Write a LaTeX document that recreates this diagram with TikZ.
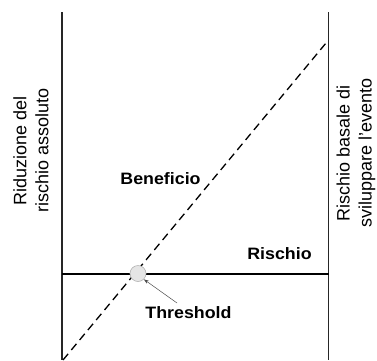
\documentclass[tikz,border=0pt]{standalone}
\usepackage{fontspec}
\setmainfont{Liberation Sans}
\usetikzlibrary{arrows.meta}
\begin{document}
\begin{tikzpicture}[x=1pt,y=-1pt,
  axisline/.style={line width=1.3pt,black!85},
  riskline/.style={line width=2pt,black},
  benefitline/.style={line width=1.3pt,black,dash pattern=on 8pt off 5pt},
  boldlabel/.style={font=\fontsize{16.5}{19}\selectfont\bfseries,inner sep=0pt,anchor=base},
  sidelabel/.style={font=\fontsize{18}{22}\selectfont,align=center,rotate=90,inner sep=0pt},
  thresh/.style={circle,minimum size=16pt,inner sep=0pt,fill=black!10,draw=black!30,line width=0.6pt},
  pointer/.style={line width=0.5pt,black!70,-{Stealth[length=5pt,width=3.5pt]}}]
\useasboundingbox (0,0) rectangle (377,360);
\coordinate (LT) at (62,12);
\coordinate (LB) at (62,360);
\coordinate (RT) at (328.5,12);
\coordinate (RB) at (328.5,360);
\coordinate (HL) at (62,273.5);
\coordinate (HR) at (328.5,273.5);
\coordinate (DS) at (63,360);
\coordinate (DE) at (328.5,40);
\draw[axisline] (LT) -- (LB);
\draw[axisline] (RT) -- (RB);
\draw[riskline] (HL) -- (HR);
\draw[benefitline] (DS) -- (DE);
\node[thresh] (th) at (138,273.5) {};
\node[boldlabel] (ben) at (160.5,184) {\scalebox{1.08}[1]{Beneficio}};
\node[boldlabel] (ris) at (279.5,259) {\scalebox{1.08}[1]{Rischio}};
\node[boldlabel] (thl) at (188.5,318) {\scalebox{1.08}[1]{Threshold}};
\coordinate (tail) at (177,303);
\draw[pointer] (tail) -- (th.south east);
\node[sidelabel] (left) at (31,150.5) {Riduzione del\\rischio assoluto};
\node[sidelabel] (right) at (356,153) {Rischio basale di\\sviluppare l'evento};
\end{tikzpicture}
\end{document}
